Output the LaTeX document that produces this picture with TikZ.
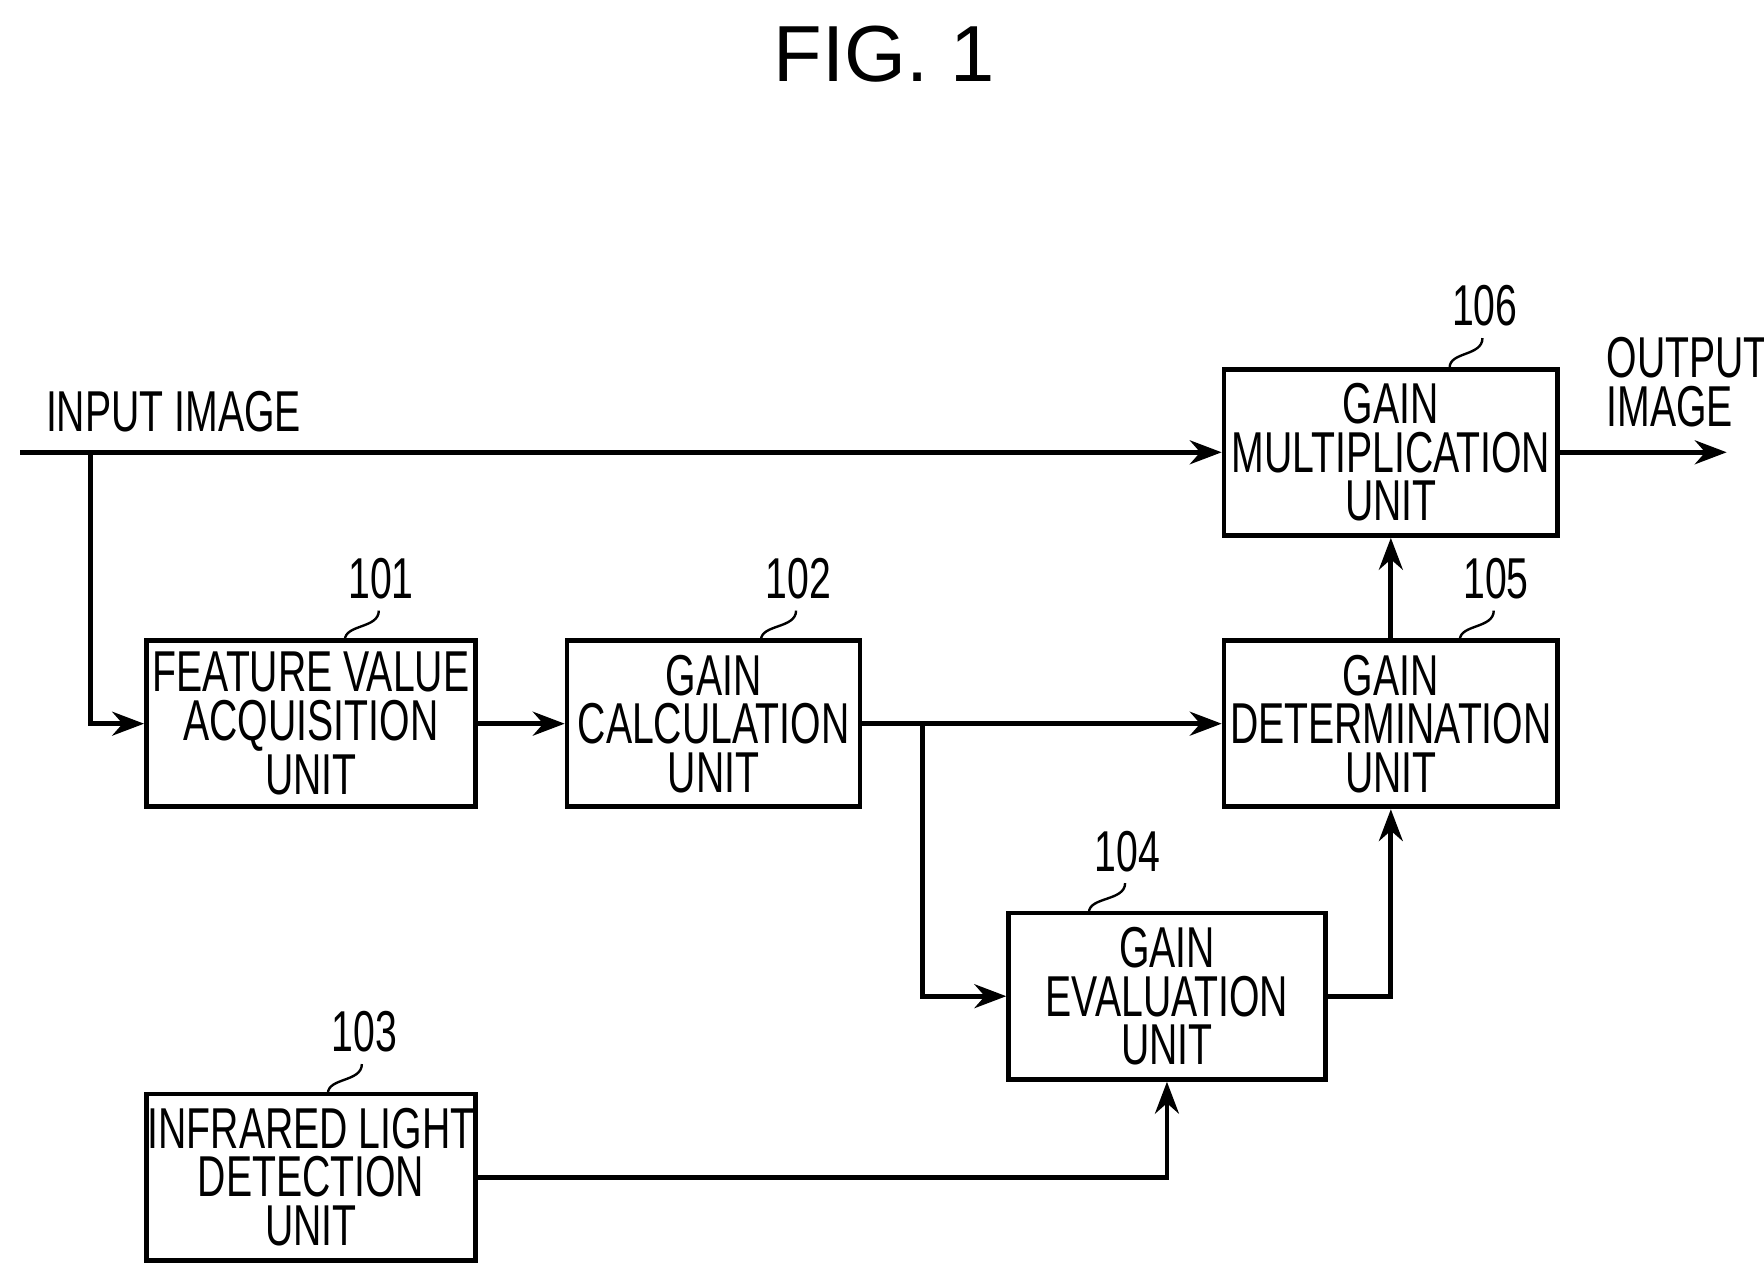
\documentclass[tikz,border=0pt]{standalone}
\usepackage{fontspec}
\setmainfont{Liberation Sans}
\newfontfamily\narrowfont[FakeStretch=0.68]{Liberation Sans}
\usetikzlibrary{arrows.meta}
\tikzset{
    unit/.style = {draw, line width=1.2pt, minimum width=#1*0.01cm, minimum height=1.47cm,
        align=center, inner sep=0pt, font=\narrowfont\fontsize{14.5}{12.2}\selectfont},
    unit/.default = 291,
    link/.style = {line width=1.2pt, -{Stealth[length=8pt,width=6pt]}},
    refnum/.style = {font=\narrowfont\fontsize{14.5}{15}\selectfont},
    squiggle/.style = {line width=0.6pt}
}
\begin{document}
\begin{tikzpicture}[x=0.01cm, y=-0.01cm]
    \useasboundingbox (0,0) rectangle (1560,1128);

    \node [font=\fontsize{20}{20}\selectfont] (title) at (782,48) {FIG. 1};

    % Блоки
    \node [unit=295] (mult) at (1230,400) {GAIN\\MULTIPLICATION\\UNIT};
    \node [unit] (feat) at (275,640) {FEATURE VALUE\\ACQUISITION\\UNIT};
    \node [unit=259] (calc) at (631,640) {GAIN\\CALCULATION\\UNIT};
    \node [unit=295] (det) at (1230,640) {GAIN\\DETERMINATION\\UNIT};
    \node [unit=280] (eval) at (1032,881) {GAIN\\EVALUATION\\UNIT};
    \node [unit] (ir) at (275,1041) {INFRARED LIGHT\\DETECTION\\UNIT};

    % Номера
    \node [refnum] (n101) at (337,512) {101};
    \node [refnum] (n102) at (706,512) {102};
    \node [refnum] (n103) at (322,912) {103};
    \node [refnum] (n104) at (997,753) {104};
    \node [refnum] (n105) at (1323,512) {105};
    \node [refnum] (n106) at (1313,270) {106};
    \draw [squiggle] (305,566) .. controls (305,552) and (335,556) .. (335,540);
    \draw [squiggle] (673,566) .. controls (673,552) and (704,556) .. (704,540);
    \draw [squiggle] (290,967) .. controls (290,953) and (320,957) .. (320,941);
    \draw [squiggle] (963,807) .. controls (963,793) and (995,797) .. (995,781);
    \draw [squiggle] (1291,566) .. controls (1291,552) and (1321,556) .. (1321,540);
    \draw [squiggle] (1282,325) .. controls (1282,311) and (1311,315) .. (1311,299);

    % Входы и выходы
    \node [refnum, anchor=south west, inner sep=0pt] (in) at (40,383) {INPUT IMAGE};
    \node [refnum, anchor=south west, inner sep=0pt, align=left, font=\narrowfont\fontsize{14.5}{12.2}\selectfont] (out) at (1420,378) {OUTPUT\\IMAGE};
    \coordinate (src) at (18,400);
    \coordinate (split) at (80,400);
    \coordinate (dst) at (1527,400);
    \coordinate (fork) at (816,640);

    % Связи
    \draw [link] (src) -- (mult.west);
    \draw [link] (split) |- (feat.west);
    \draw [link] (feat) -- (calc);
    \draw [link] (calc) -- (det);
    \draw [link] (fork) |- (eval.west);
    \draw [link] (eval.east) -| (det.south);
    \draw [link] (ir.east) -| (eval.south);
    \draw [link] (det) -- (mult);
    \draw [link] (mult.east) -- (dst);
\end{tikzpicture}
\end{document}
